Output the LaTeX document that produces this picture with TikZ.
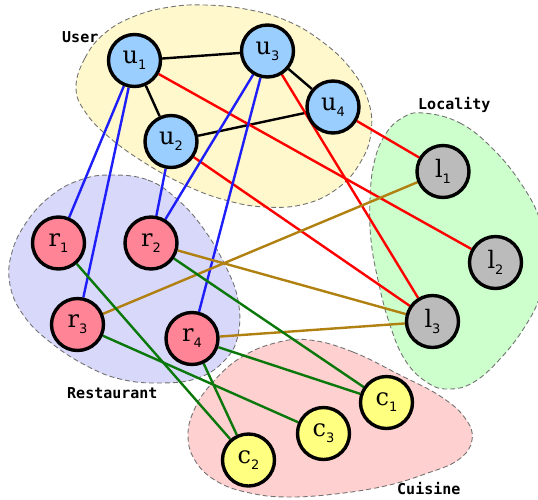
\documentclass[tikz,border=0pt]{standalone}
\usepackage{fontspec}
\newfontfamily\entfont{DejaVu Serif}
\newfontfamily\idxfont{DejaVu Sans}
\newfontfamily\grpfont{DejaVu Sans Mono}
\newcommand{\ent}[2]{{\entfont\fontsize{24}{24}\selectfont #1}%
  \raisebox{-6pt}{\idxfont\fontsize{13}{13}\selectfont #2}}

\definecolor{userbg}{RGB}{255,248,204}
\definecolor{restbg}{RGB}{216,216,250}
\definecolor{locbg}{RGB}{204,255,204}
\definecolor{cuisbg}{RGB}{255,208,208}
\definecolor{userfill}{RGB}{153,206,255}
\definecolor{restfill}{RGB}{255,133,150}
\definecolor{locfill}{RGB}{187,187,187}
\definecolor{cuisfill}{RGB}{255,255,128}
\definecolor{ublue}{RGB}{30,30,250}
\definecolor{rgreen}{RGB}{10,120,10}
\definecolor{lgold}{RGB}{176,128,16}

\pgfdeclarelayer{blobs}
\pgfdeclarelayer{links}
\pgfsetlayers{blobs,links,main}

\begin{document}
\begin{tikzpicture}[x=1pt,y=-1pt]
    \tikzset{
        entity/.style={circle,draw=black,line width=3.4pt,
            minimum size=52pt,inner sep=0pt},
        user/.style={entity,fill=userfill},
        rest/.style={entity,fill=restfill},
        loc/.style={entity,fill=locfill},
        cuis/.style={entity,fill=cuisfill},
        group/.style={draw=black!55,line width=0.9pt,
            dash pattern=on 5pt off 3pt},
        grplabel/.style={anchor=base west,inner sep=0pt,
            font=\grpfont\bfseries\fontsize{15}{15}\selectfont},
        link/.style={line width=2.4pt}
    }
    \useasboundingbox (0,0) rectangle (538,499);

    % groups
    \begin{pgfonlayer}{blobs}
    \draw[group,fill=userbg] plot[smooth cycle,tension=0.7] coordinates
        {(76,88) (85,58) (105,33) (135,16) (170,7) (205,5) (245,9)
         (285,20) (320,40) (350,68) (368,100) (371,133) (360,163)
         (338,188) (305,204) (265,207) (225,200) (185,185) (145,163)
         (110,138) (86,113)};
    \draw[group,fill=restbg] plot[smooth cycle,tension=0.7] coordinates
        {(110,175) (148,180) (178,200) (203,228) (225,265) (238,300)
         (238,335) (225,360) (198,378) (160,383) (120,379) (85,365)
         (50,342) (24,316) (10,285) (12,252) (28,220) (52,195)
         (80,180)};
    \draw[group,fill=locbg] plot[smooth cycle,tension=0.7] coordinates
        {(423,113) (460,123) (494,150) (522,185) (540,220) (547,258)
         (540,296) (524,328) (500,359) (474,382) (450,389) (428,383)
         (405,360) (389,322) (378,280) (371,240) (370,200) (374,163)
         (385,135) (402,118)};
    \draw[group,fill=cuisbg] plot[smooth cycle,tension=0.7] coordinates
        {(310,340) (353,352) (400,375) (440,396) (465,418) (472,440)
         (458,460) (425,474) (385,486) (335,494) (287,497) (250,493)
         (218,482) (196,462) (188,436) (195,408) (213,382) (240,358)
         (275,343)};
    \end{pgfonlayer}

    \node[grplabel] (userlbl) at (62,42) {User};
    \node[grplabel] (loclbl) at (418,109) {Locality};
    \node[grplabel] (restlbl) at (67,398) {Restaurant};
    \node[grplabel] (cuislbl) at (397,494) {Cuisine};

    % entities
    \node[user] (u1) at (134.5,60.5) {\ent{u}{1}};
    \node[user] (u2) at (171,141.5) {\ent{u}{2}};
    \node[user] (u3) at (267.5,51) {\ent{u}{3}};
    \node[user] (u4) at (333,107) {\ent{u}{4}};

    \node[rest] (r1) at (58.5,243) {\ent{r}{1}};
    \node[rest] (r2) at (151,243) {\ent{r}{2}};
    \node[rest] (r3) at (77.5,324.5) {\ent{r}{3}};
    \node[rest] (r4) at (192,338.5) {\ent{r}{4}};

    \node[loc] (l1) at (443,171.5) {\ent{l}{1}};
    \node[loc] (l2) at (495.5,262.5) {\ent{l}{2}};
    \node[loc] (l3) at (432.5,321.5) {\ent{l}{3}};

    \node[cuis] (c1) at (386.5,402.5) {\ent{c}{1}};
    \node[cuis] (c2) at (248.5,460) {\ent{c}{2}};
    \node[cuis] (c3) at (323.5,433.5) {\ent{c}{3}};

    % links
    \begin{pgfonlayer}{links}
    \foreach \a/\b in {u1/u3,u1/u2,u3/u4,u2/u4}
        \draw[link,black] (\a) -- (\b);
    \foreach \a/\b in {u1/l2,u2/l3,u3/l3,u4/l1}
        \draw[link,red] (\a) -- (\b);
    \foreach \a/\b in {u1/r1,u1/r3,u2/r2,u3/r2,u3/r4}
        \draw[link,ublue] (\a) -- (\b);
    \foreach \a/\b in {r3/l1,r2/l3,r4/l3}
        \draw[link,lgold] (\a) -- (\b);
    \foreach \a/\b in {r1/c2,r3/c3,r2/c1,r4/c1,r4/c2}
        \draw[link,rgreen] (\a) -- (\b);
    \end{pgfonlayer}
\end{tikzpicture}
\end{document}
